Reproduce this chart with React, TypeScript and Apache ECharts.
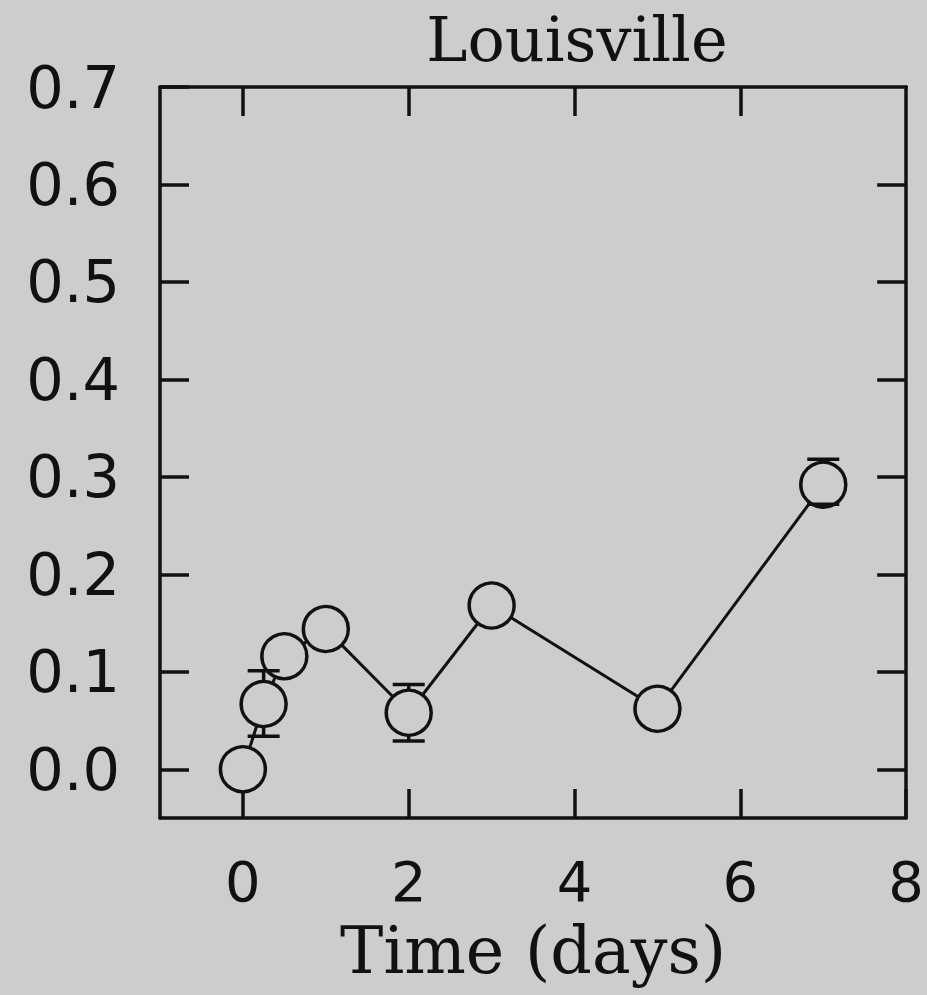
import React, { useEffect, useRef } from "react";
import * as echarts from "echarts";

const title = "Louisville";
const xName = "Time (days)";
const timeDays = [0, 0.25, 0.5, 1, 2, 3, 5, 7];
const values = [0.0, 0.067, 0.116, 0.144, 0.058, 0.168, 0.062, 0.292];
const errLow: (number | null)[] = [null, 0.034, null, null, 0.029, null, null, 0.272];
const errHigh: (number | null)[] = [null, 0.101, null, null, 0.087, null, null, 0.318];
const xTicks = [0, 2, 4, 6, 8];
const xTopTicks = [0, 2, 4, 6];
const yTicks = [0, 0.1, 0.2, 0.3, 0.4, 0.5, 0.6, 0.7];
const yRightTicks = [0, 0.1, 0.2, 0.3, 0.4, 0.5, 0.6];

const BG = "#cdcdcd";
const INK = "#111111";
const SYMBOL = 45;
const CAP = 32;

export default function App() {
  const ref = useRef<HTMLDivElement>(null);
  useEffect(() => {
    if (!ref.current) return;
    const chart = echarts.init(ref.current, null, { renderer: "svg" });
    const points = timeDays.map((t, i) => [t, values[i]]);
    const errData = timeDays
      .map((t, i) => [t, values[i], errLow[i], errHigh[i]])
      .filter((d) => d[2] != null && d[3] != null);

    const axisLine = { show: true, onZero: false, lineStyle: { color: INK, width: 3.5 } };
    const tickBase = { inside: true, length: 29, lineStyle: { color: INK, width: 3.5 } };

    chart.setOption({
      animation: false,
      backgroundColor: BG,
      title: {
        text: title,
        left: 572,
        top: 3,
        textAlign: "center",
        textStyle: { fontFamily: "DejaVu Serif", fontSize: 62, fontWeight: "normal", color: INK },
      },
      grid: { left: 160, right: 20, top: 87, bottom: 177 },
      xAxis: [
        {
          type: "value",
          min: -1,
          max: 8,
          position: "bottom",
          splitLine: { show: false },
          axisLine,
          axisTick: { ...tickBase, customValues: xTicks },
          axisLabel: {
            customValues: xTicks,
            margin: 35,
            fontFamily: "DejaVu Sans",
            fontSize: 56,
            color: INK,
          },
          name: xName,
          nameLocation: "middle",
          nameGap: 100,
          nameTextStyle: { fontFamily: "DejaVu Serif", fontSize: 65, color: INK },
        },
        {
          type: "value",
          min: -1,
          max: 8,
          position: "top",
          splitLine: { show: false },
          axisLine,
          axisTick: { ...tickBase, customValues: xTopTicks },
          axisLabel: { show: false },
        },
      ],
      yAxis: [
        {
          type: "value",
          min: -0.05,
          max: 0.7,
          position: "left",
          splitLine: { show: false },
          axisLine,
          axisTick: { ...tickBase, customValues: yTicks },
          axisLabel: {
            customValues: yTicks,
            margin: 40,
            fontFamily: "DejaVu Sans",
            fontSize: 59,
            color: INK,
            formatter: (v: number) => v.toFixed(1),
          },
        },
        {
          type: "value",
          min: -0.05,
          max: 0.7,
          position: "right",
          splitLine: { show: false },
          axisLine,
          axisTick: { ...tickBase, customValues: yRightTicks },
          axisLabel: { show: false },
        },
      ],
      series: [
        {
          type: "line",
          data: points,
          xAxisIndex: 0,
          yAxisIndex: 0,
          symbol: "circle",
          symbolSize: SYMBOL,
          showAllSymbol: true,
          lineStyle: { color: INK, width: 3 },
          itemStyle: { color: BG, borderColor: INK, borderWidth: 3.5 },
          z: 2,
        },
        {
          type: "custom",
          xAxisIndex: 0,
          yAxisIndex: 0,
          data: errData,
          z: 5,
          renderItem: (params: any, api: any) => {
            const x = api.value(0);
            const c = api.coord([x, api.value(1)]);
            const lo = api.coord([x, api.value(2)]);
            const hi = api.coord([x, api.value(3)]);
            const r = SYMBOL / 2;
            const style = { stroke: INK, lineWidth: 3.5 };
            const children: any[] = [
              { type: "line", shape: { x1: hi[0] - CAP / 2, y1: hi[1], x2: hi[0] + CAP / 2, y2: hi[1] }, style },
              { type: "line", shape: { x1: lo[0] - CAP / 2, y1: lo[1], x2: lo[0] + CAP / 2, y2: lo[1] }, style },
            ];
            if (hi[1] < c[1] - r) {
              children.push({ type: "line", shape: { x1: c[0], y1: hi[1], x2: c[0], y2: c[1] - r }, style });
            }
            if (lo[1] > c[1] + r) {
              children.push({ type: "line", shape: { x1: c[0], y1: c[1] + r, x2: c[0], y2: lo[1] }, style });
            }
            return { type: "group", children };
          },
        },
      ],
    });
    return () => chart.dispose();
  }, []);
  return (
    <div
      ref={ref}
      style={{ position: "absolute", left: 0, top: 0, width: 927, height: 995 }}
    />
  );
}
